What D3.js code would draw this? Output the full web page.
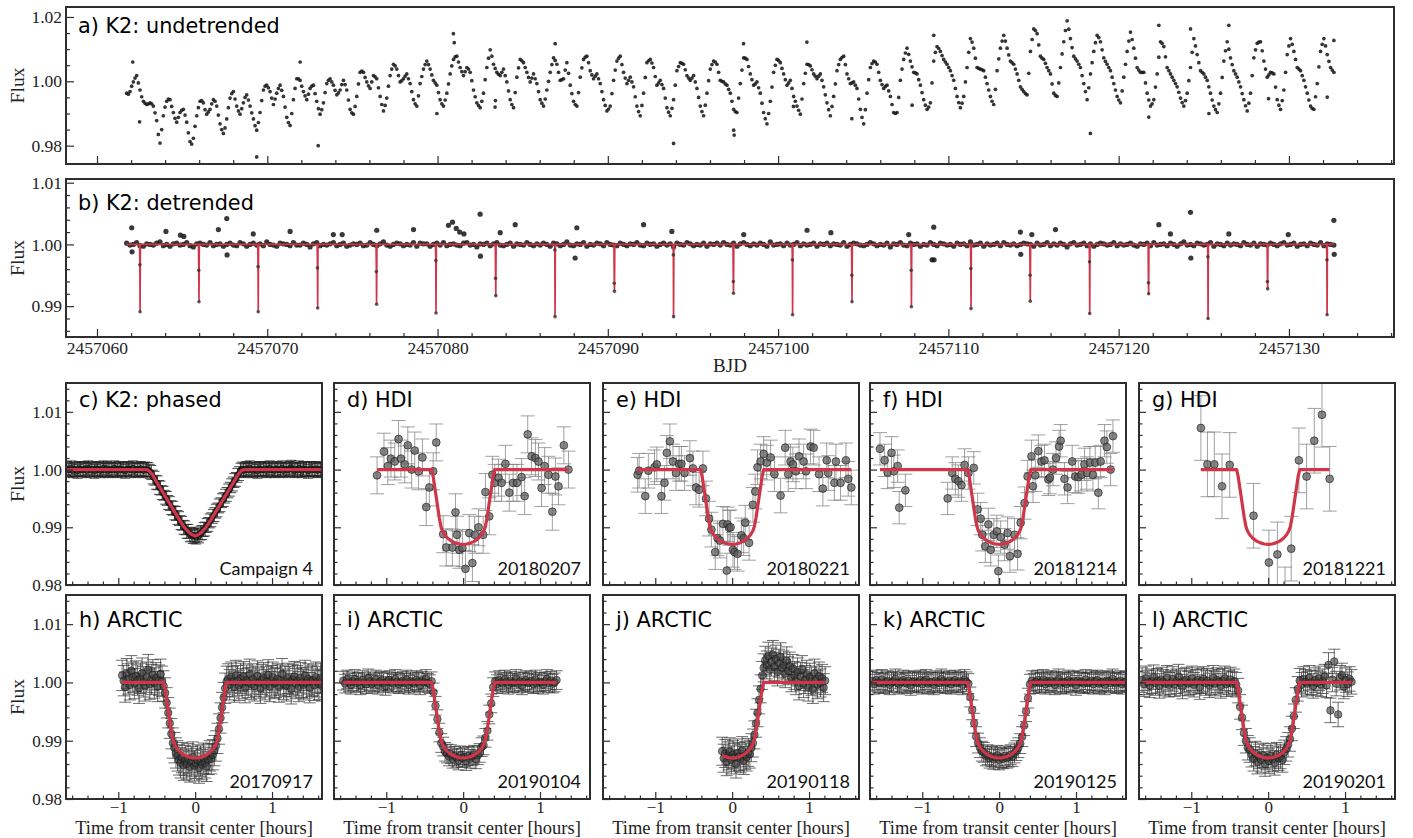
<!DOCTYPE html>
<html>
<head>
<meta charset="utf-8">
<script src="https://cdn.jsdelivr.net/npm/d3@7"></script>
<style>
  body { margin: 0; background: #fff; }
  svg { display: block; }
</style>
</head>
<body>
<svg id="fig" width="1413" height="838"></svg>
<script>
// ---------------------------------------------------------------
// K2 Campaign 4 light curve (flux deviation in units of 1e-4)
// ---------------------------------------------------------------
const K2_START = 2457061.743;  // BJD of first sample
const K2_STEP = 0.19585;       // days between samples in k2RawDev

const k2RawDev = [
  -37,-32,-2,18,-27,-62,-72,-67,-77,-122,
  -192,-107,-62,-57,-97,-127,-97,-87,-127,-187,
  -177,-107,-62,-67,-102,-87,-57,-77,-132,-162,
  -117,-52,-32,-77,-102,-67,-42,-77,-117,-152,
  -97,-27,-12,-32,-72,-37,-12,-47,-112,-137,
  -57,8,3,-32,-57,-22,-12,-62,-102,-67,
  -7,8,-12,-42,-27,3,-27,-87,-102,-47,
  28,28,-2,-22,18,8,-47,-92,-52,18,
  53,38,-2,8,23,-7,-57,-77,-7,38,
  63,38,3,-12,-57,-77,-37,23,68,78,
  43,18,43,28,-27,-67,-82,
  -37,43,98,53,28,18,38,-2,-57,-82,
  13,68,58,28,-2,23,-7,-57,-77,-27,
  28,73,53,3,8,58,-12,-62,-77,13,
  68,78,33,8,23,-7,-57,-92,-77,3,
  63,78,28,-7,13,-17,-77,-107,-37,58,
  68,43,-12,3,-22,-82,-107,-57,33,58,
  53,18,3,18,-22,-77,-107,-37,38,63,
  53,3,-2,-12,-37,-87,-97,-7,73,68,
  23,-12,-2,-37,-97,-132,-62,28,68,58,
  23,-12,3,-47,-77,-102,-7,53,48,23,
  8,23,-17,-67,-107,-47,33,68,78,23,
  -7,-2,-22,-87,-132,-37,43,63,53,3,
  -22,-12,-47,-97,-97,3,68,103,63,28,
  23,-12,-57,-87,-67,63,108,93,
  68,53,33,3,-47,-82,-47,43,133,103,
  43,38,33,-7,-47,-72,33,103,143,103,
  63,53,23,-17,-32,-42,93,163,148,78,
  68,43,23,-37,-47,43,123,188,133,78,
  63,43,-7,-57,23,93,143,123,73,53,
  33,-7,-47,-67,13,93,153,103,43,28,
  28,-37,-77,-57,23,123,108,43,23,3,
  -17,-52,-77,-37,43,133,83,33,23,3,
  -37,-77,-97,-37,63,123,73,33,13,-17,
  -57,-92,-37,73,118,123,63,13,28,23,
  -57,-87,-27,83,133,93,43,33,3,-37,
  -77,-87,-7,93,133,83,43,28
];

// samples taken half a step after each entry of k2RawDev
const k2RawDevMid = [
  -40,-15,10,-5,-48,-68,-70,-70,-98,-165,
  -150,-80,-55,-78,-115,-112,-90,-105,-160,-195,
  -140,-82,-60,-88,-95,-70,-62,-105,-150,-145,
  -82,-38,-55,-92,-85,-50,-58,-98,-138,-128,
  -60,-15,-20,-52,-55,-22,-28,-80,-128,-100,
  -22,8,-15,-45,-40,-15,-38,-85,-88,-35,
  3,-2,-28,-36,-10,-10,-58,-98,-78,-8,
  32,12,-14,-2,14,-20,-72,-75,-15,38,
  48,18,2,16,8,-32,-70,-45,15,52,
  52,20,-5,-35,-70,-58,-8,48,76,60,
  30,30,38,2,-48,-75,-62,
  5,72,78,40,22,28,18,-30,-72,-35,
  42,64,43,12,10,8,-32,-68,-55,0,
  52,65,28,5,35,25,-38,-72,-35,42,
  75,58,20,16,8,-32,-75,-86,-38,35,
  72,52,10,3,-2,-48,-94,-75,12,64,
  57,15,-5,-10,-52,-96,-84,-12,46,56,
  36,10,10,-2,-50,-94,-74,2,52,60,
  28,0,-8,-25,-62,-94,-52,35,72,46,
  5,-8,-20,-68,-116,-100,-18,50,65,40,
  5,-5,-22,-62,-90,-55,25,52,36,16,
  16,3,-42,-88,-78,-8,52,74,52,8,
  -5,-12,-55,-112,-88,5,55,60,28,-10,
  -16,-30,-72,-100,-50,38,88,84,45,26,
  5,-35,-74,-80,-5,90,102,80,
  60,43,18,-22,-66,-68,-2,90,122,72,
  40,36,13,-27,-62,-25,70,125,125,82,
  58,38,3,-25,-38,25,130,158,113,72,
  56,33,-8,-44,-5,85,158,162,105,70,
  53,18,-32,-20,58,120,136,98,62,43,
  13,-27,-58,-30,53,125,130,72,35,28,
  -5,-58,-70,-18,75,118,76,33,13,-7,
  -34,-66,-60,2,90,110,58,28,13,-17,
  -58,-88,-70,12,95,100,52,23,-2,-38,
  -76,-68,18,98,122,95,38,20,26,-18,
  -74,-60,28,110,115,68,38,18,-17,-58,
  -84,-48,45,115,110,62,35
];

// isolated samples off the main curve [BJD, flux]
const k2RawOutliers = [
  [2457062.10,1.0060],[2457062.50,0.9874],[2457069.38,0.9765],[2457071.93,1.0060],
  [2457072.99,0.9800],[2457079.96,0.9900],[2457080.93,1.0148],[2457080.98,1.0120],
  [2457083.38,0.9920],[2457083.40,0.9940],[2457086.91,1.0117],[2457093.86,0.9807],
  [2457097.39,0.9848],[2457097.42,0.9833],[2457097.97,1.0117],[2457100.90,0.9922],
  [2457101.69,1.0122],[2457104.33,0.9884],[2457107.87,0.9926],[2457109.14,1.0143],
  [2457118.34,0.9838],[2457121.77,0.9889],[2457122.36,1.0174],[2457124.22,1.0163],
  [2457125.30,0.9900],[2457126.47,1.0174],[2457128.80,0.9946],[2457132.25,0.9951],
  [2457132.64,1.0127]
];

// detrended residuals, same sampling as k2RawDev (units of 1e-4)
const k2DetrendedDev = [
  2,-1,0,3,-2,-3,1,0,-1,2,4,-2,0,-3,1,2,-1,0,3,-2,-4,1,2,0,-1,3,-2,0,1,-3,
  0,2,-1,-2,3,1,-3,0,2,-1,1,-2,4,0,-1,-3,2,1,0,-2,3,-1,-1,2,0,-4,1,3,-2,0,
  -1,1,3,-2,0,2,-3,-1,1,0,2,-2,-1,3,0,-2,1,4,-1,-3,0,2,1,-2,0,-1,3,-3,2,1,
  1,-3,0,2,-1,3,-2,0,1,-1,-2,2,3,-1,0,-4,1,0,2,-2,1,3,-1,-2,0,2,-3,1,0,-1,
  3,0,-2,1,-1,2,0,-3,2,1,-2,0,4,-1,-2,1,0,3,-3,0,-1,2,1,-2,3,0,-1,-2,2,0,
  -2,1,0,3,-1,-2,2,0,1,-3,0,2,-1,1,-4,2,0,-1,3,1,-2,0,-1,2,-3,1,0,2,-1,3,
  0,-1,2,-3,1,3,0,-2,1,-1,2,0,-3,4,-1,0,1,-2,2,-1,0,3,-2,1,-1,0,2,-3,1,0,
  2,-2,1,0,-1,3,-3,0,2,1,-1,-2,0,3,1,-2,0,-1,2,-4,1,0,3,-1,-2,2,0,1,-3,0,
  -1,3,0,-2,2,1,-1,0,-3,2,0,1,-2,4,-1,0,2,-3,1,-1,0,2,-2,3,0,-1,1,-2,0,2,
  1,0,-3,2,-1,0,3,-2,1,-1,2,0,-4,1,3,-1,0,2,-2,1,-3,0,2,1,-1,0,3,-2,1,-1,
  0,2,-1,-3,1,0,2,-2,3,-1,0,1,-2,2,0,-3,1,4,-1,0,-2,2,1,-1,0,3,-3,1,0,-2,
  2,-1,1,0,-2,3,0,-1,2,-3,1,0,
  -1,2,0,-2,1,3,-1,0,2,-3,0,1,-2,2,0,-1,3,-2,1,0,-1
];

const k2DetrendedOutliers = [
  [2457062.04,1.0027],[2457062.06,0.9988],[2457064.05,1.0021],[2457064.90,1.0015],
  [2457065.10,1.0013],[2457067.13,1.0024],[2457067.62,1.0042],[2457067.64,0.9983],
  [2457069.18,1.0017],[2457071.34,1.0021],[2457073.88,1.0016],[2457074.40,1.0016],
  [2457076.43,1.0023],[2457078.59,1.0024],[2457080.64,1.0031],[2457080.88,1.0036],
  [2457081.10,1.0026],[2457081.30,1.0020],[2457081.55,1.0017],[2457082.50,1.0049],
  [2457082.52,0.9981],[2457083.68,1.0019],[2457084.56,1.0032],[2457088.08,0.9978],
  [2457088.18,1.0027],[2457092.10,1.0032],[2457093.76,1.0021],[2457097.98,1.0016],
  [2457101.70,1.0023],[2457103.10,1.0019],[2457107.67,1.0016],[2457109.04,0.9975],
  [2457109.14,1.0028],[2457109.16,0.9975],[2457114.23,1.0020],[2457114.25,0.9984],
  [2457114.90,1.0016],[2457116.29,1.0024],[2457122.36,1.0032],[2457123.04,1.0017],
  [2457124.22,1.0052],[2457124.24,0.9978],[2457126.47,1.0017],[2457129.96,1.0016],
  [2457132.64,1.0039],[2457132.66,0.9984]
];

// individual K2 transits: mid-time, lowest sample, partial (ingress) sample
const transitMid = [
  2457062.53,2457065.99,2457069.47,2457072.96,2457076.42,2457079.91,2457083.42,
  2457086.90,2457090.39,2457093.86,2457097.38,2457100.85,2457104.34,2457107.83,
  2457111.33,2457114.81,2457118.30,2457121.76,2457125.25,2457128.75,2457132.24
];
const transitMin = [
  0.9891,0.9907,0.9891,0.9897,0.9903,0.9889,0.9917,0.9883,0.9924,0.9883,0.9921,
  0.9886,0.9907,0.9899,0.9896,0.9908,0.9888,0.9920,0.9880,0.9928,0.9886
];
const transitPartial = [
  0.9967,0.9958,0.9964,0.9962,0.9956,0.9974,0.9945,0.9991,0.9937,0.9983,0.9940,
  0.9975,0.9950,0.9958,0.9961,0.9950,0.9972,0.9938,0.9980,0.9940,0.9975
];

// ---------------------------------------------------------------
// Transit models: [hours from center, deviation in 1e-4]
// ---------------------------------------------------------------
const modelK2 = [
  [-1.70,0],[-0.63,0],[-0.60,-2],[-0.56,-8],[-0.50,-22],[-0.40,-44],[-0.30,-66],
  [-0.20,-88],[-0.14,-100],[-0.08,-109],[-0.04,-113],[0,-115],[0.04,-113],
  [0.08,-109],[0.14,-100],[0.20,-88],[0.30,-66],[0.40,-44],[0.50,-22],[0.56,-8],
  [0.60,-2],[0.63,0],[1.70,0]
];
const modelGround = [
  [-1.70,0],[-0.41,0],[-0.39,-12],[-0.37,-30],[-0.35,-48],[-0.33,-66],[-0.31,-84],
  [-0.29,-98],[-0.27,-106],[-0.24,-113],[-0.20,-119],[-0.15,-124],[-0.10,-127],
  [-0.05,-129],[0,-129.5],[0.05,-129],[0.10,-127],[0.15,-124],[0.20,-119],
  [0.24,-113],[0.27,-106],[0.29,-98],[0.31,-84],[0.33,-66],[0.35,-48],[0.37,-30],
  [0.39,-12],[0.41,0],[1.70,0]
];

// ---------------------------------------------------------------
// Phased K2 photometry (deviation in 1e-4)
// ---------------------------------------------------------------
const phasedStart = -1.67, phasedStep = 0.02, phasedErr = 0.0012;
const phasedDev = [
  2,-1,0,3,-2,1,0,-3,2,1,-1,0,2,-2,3,0,-1,1,-3,2,0,1,-2,0,3,-1,2,-2,0,1,
  -1,3,0,-2,1,2,-1,0,-3,1,2,0,-1,3,-2,0,1,-1,2,0,-2,1,0,
  0,-3,-5,-13,-15,-22,-23,-31,-32,-40,-41,-48,-50,-57,-59,-66,-67,-75,-76,-83,
  -85,-92,-93,-100,-101,-107,-107,-113,-112,-116,-114,
  -117,-113,-115,-110,-109,-104,-103,-97,-95,-89,-87,-81,-78,-72,-70,-63,-61,-54,
  -52,-46,-43,-37,-34,-28,-25,-19,-17,-10,-7,-1,
  1,-2,0,2,-1,3,0,-2,1,0,-3,2,1,-1,0,2,-2,1,3,-1,0,-2,2,1,-1,0,3,-2,1,0,
  -1,2,4,0,-2,1,-1,3,0,-2,2,1,0,-3,1,2,-1,0,2,-2,1,0,-1
];

// ---------------------------------------------------------------
// HDI nights: [hours from center, relative flux]
// ---------------------------------------------------------------
const hdi20180207 = [
  [-1.12,0.9990],[-1.03,1.0031],[-0.98,1.0006],[-0.94,1.0019],[-0.89,1.0014],[-0.84,1.0053],
  [-0.81,1.0019],[-0.76,1.0009],[-0.72,1.0042],[-0.67,1.0000],[-0.63,1.0033],[-0.58,0.9997],
  [-0.53,1.0021],[-0.48,0.9935],[-0.44,0.9969],[-0.39,0.9997],[-0.35,1.0047],[-0.26,0.9888],
  [-0.22,0.9865],[-0.14,0.9865],[-0.10,0.9926],[-0.08,0.9887],[-0.05,0.9861],[-0.01,0.9864],
  [0.03,0.9828],[0.08,0.9890],[0.12,0.9838],[0.15,0.9887],[0.20,0.9900],[0.26,0.9887],
  [0.29,0.9961],[0.34,0.9919],[0.38,0.9991],[0.41,0.9977],[0.46,0.9986],[0.50,0.9977],
  [0.55,1.0010],[0.60,0.9960],[0.65,0.9977],[0.70,0.9977],[0.76,0.9987],[0.80,0.9954],
  [0.84,1.0061],[0.89,1.0023],[0.94,1.0020],[0.98,1.0014],[1.02,0.9968],[1.06,1.0006],
  [1.11,0.9991],[1.16,0.9927],[1.20,0.9988],[1.24,0.9971],[1.31,1.0042],[1.37,1.0000]
];
const hdi20180221 = [
  [-1.23,0.9991],[-1.21,0.9998],[-1.13,0.9954],[-1.09,0.9998],[-1.01,1.0004],[-0.98,1.0009],
  [-0.92,0.9954],[-0.88,0.9977],[-0.85,1.0029],[-0.81,1.0049],[-0.77,1.0014],[-0.73,0.9994],
  [-0.69,1.0010],[-0.66,1.0010],[-0.62,0.9994],[-0.55,1.0020],[-0.51,1.0002],[-0.47,0.9969],
  [-0.43,0.9965],[-0.38,1.0002],[-0.34,0.9950],[-0.30,0.9915],[-0.27,0.9896],[-0.22,0.9857],
  [-0.19,0.9881],[-0.16,0.9877],[-0.12,0.9906],[-0.07,0.9825],[-0.06,0.9905],[-0.04,0.9899],
  [-0.02,0.9900],[0.01,0.9861],[0.03,0.9857],[0.07,0.9854],[0.12,0.9886],[0.15,0.9881],
  [0.17,0.9908],[0.22,0.9873],[0.27,0.9939],[0.30,0.9962],[0.33,1.0004],[0.37,1.0014],
  [0.41,1.0027],[0.45,1.0012],[0.50,1.0021],[0.55,0.9992],[0.63,0.9955],[0.69,1.0038],
  [0.73,0.9992],[0.76,1.0014],[0.79,1.0009],[0.83,0.9997],[0.87,1.0023],[0.93,1.0014],
  [0.96,0.9997],[1.02,1.0040],[1.06,1.0038],[1.13,0.9992],[1.18,0.9967],[1.23,1.0016],
  [1.25,0.9994],[1.33,0.9977],[1.35,1.0014],[1.41,0.9977],[1.48,1.0016],[1.51,0.9984],
  [1.55,0.9969]
];
const hdi20181214 = [
  [-1.55,1.0036],[-1.49,1.0016],[-1.45,0.9995],[-1.40,1.0029],[-1.37,0.9997],[-1.32,1.0006],
  [-1.30,0.9934],[-1.22,0.9964],[-0.67,0.9950],[-0.61,0.9994],[-0.57,0.9984],[-0.53,0.9980],
  [-0.49,0.9973],[-0.45,1.0008],[-0.40,0.9994],[-0.33,1.0003],[-0.28,0.9931],[-0.24,0.9915],
  [-0.22,0.9887],[-0.18,0.9867],[-0.14,0.9905],[-0.11,0.9861],[-0.07,0.9887],[-0.03,0.9893],
  [-0.01,0.9824],[0.02,0.9883],[0.07,0.9870],[0.11,0.9890],[0.14,0.9850],[0.20,0.9887],
  [0.24,0.9854],[0.28,0.9908],[0.33,0.9942],[0.37,0.9988],[0.42,1.0023],[0.44,0.9971],
  [0.47,0.9990],[0.51,1.0032],[0.55,1.0014],[0.59,1.0016],[0.64,0.9983],[0.66,0.9986],
  [0.70,1.0000],[0.74,1.0020],[0.78,1.0040],[0.80,1.0050],[0.85,0.9984],[0.89,0.9969],
  [0.95,1.0014],[0.99,0.9988],[1.03,0.9987],[1.07,0.9991],[1.11,1.0009],[1.14,0.9994],
  [1.18,1.0012],[1.22,0.9991],[1.25,1.0012],[1.29,0.9960],[1.32,1.0014],[1.37,1.0050],
  [1.40,1.0039],[1.45,1.0000],[1.48,1.0058]
];
const hdi20181221 = [
  [-0.875,1.0072],[-0.79,1.0009],[-0.70,1.0009],[-0.60,0.9971],[-0.50,1.0008],[-0.19,0.9920],
  [0.01,0.9839],[0.12,0.9853],[0.22,0.9775],[0.30,0.9863],[0.40,1.0016],[0.50,0.9988],
  [0.60,1.0050],[0.70,1.0095],[0.80,0.9984]
];

// ---------------------------------------------------------------
// ARCTIC nights: regular cadence, deviation in 1e-4
// ---------------------------------------------------------------
const arctic20170917Start = -0.95, arctic20170917Step = 0.02;
const arctic20170917Dev = [
  12,3,-8,15,6,-4,20,9,-2,11,4,-10,7,16,1,-6,9,22,-3,5,13,-1,8,-7,4,14,2,
  -6,-18,-35,-52,-70,-88,-104,-112,-121,-126,-133,
  -138,-129,-142,-134,-140,-131,-145,-136,-128,-143,-139,-133,-147,-135,-141,-130,-138,-144,-132,-126,
  -131,-124,-117,-109,-96,-80,-61,-43,-26,-10,2,
  6,-4,9,1,-8,12,3,-5,7,-2,10,-9,4,0,14,-3,6,-6,2,11,-1,-10,5,8,-4,1,13,-7,3,9,
  -2,0,6,-8,4,15,-3,2,-6,7,1,-11,5,10,-2,3,-7,8,0,-4,12,-1,6,-9,2,4,-5,9,1,-3,7,-6
];
const arctic20190104Start = -1.56, arctic20190104Step = 0.025;
const arctic20190104Dev = [
  3,-2,5,0,-4,2,6,-1,1,-5,4,0,-3,7,2,-2,0,5,-4,1,3,-1,-6,2,4,0,-2,6,1,-3,
  0,3,-1,5,-4,2,0,-2,4,1,-5,3,0,6,-1,-3,2,
  -17,-40,-63,-86,-104,-110,-119,-122,
  -127,-123,-131,-126,-129,-134,-125,-130,-128,-135,-126,-131,-127,-124,-132,-125,
  -121,-111,-108,-95,-83,-55,-36,-8,
  2,-3,4,0,-2,5,1,-4,3,-1,0,6,-2,2,-5,1,4,-1,0,3,-3,5,-2,1,0,-4,2,6,-1,3,-2,0,4
];
const arctic20190118Start = -0.13, arctic20190118Step = 0.02;
const arctic20190118Dev = [
  -118,-130,-122,-136,-126,-119,-133,-124,-129,-140,-121,-127,-131,-117,-134,-125,-128,-120,-123,
  -112,-104,-90,-70,-52,-30,-11,12,25,
  38,30,45,22,35,48,27,40,18,33,44,25,30,15,37,20,28,8,24,12,
  3,18,-6,10,22,-2,5,14,-8,9,2,-12,16,4,-4,11,-1,7,-9,3
];
const arctic20190125Start = -1.65, arctic20190125Step = 0.025;
const arctic20190125Dev = [
  2,-3,4,0,-1,5,-2,1,3,-4,0,2,6,-1,-3,1,4,0,-2,3,-5,1,2,-1,0,4,-3,2,5,-2,
  0,1,-4,3,0,-1,6,2,-2,0,3,-3,1,4,-1,0,2,-4,5,1,-2,
  -25,-47,-70,-93,-104,-112,-118,-120,
  -126,-124,-130,-127,-132,-128,-125,-133,-129,-131,-126,-130,-128,-124,-127,-121,
  -117,-112,-105,-93,-74,-50,-27,-3,
  3,-2,1,4,-1,0,5,-3,2,-1,3,0,-4,2,6,-2,1,0,-3,4,1,-1,2,-5,3,0,1,-2,5,-1,
  0,3,-3,2,4,-2,0,1,-4,3,2,-1,6,0,-2,1,3,-3,0,2
];
const arctic20190201Start = -1.64, arctic20190201Step = 0.025;
const arctic20190201Dev = [
  4,-3,7,0,-5,2,9,-1,3,-6,5,1,-2,8,-4,0,6,-3,2,10,-1,-7,3,5,-2,0,7,-4,1,4,
  -8,2,6,-1,3,-5,0,8,-2,4,1,-6,3,7,-3,0,5,-2,2,-4,
  -14,-42,-60,-87,-100,-112,-116,-124,
  -131,-122,-136,-127,-133,-125,-140,-129,-135,-126,-132,-138,-124,-130,-127,-133,
  -120,-114,-107,-97,-79,-58,-30,-11,
  3,-4,6,1,-2,8,0,-6,4,-1,7,-3,2,10,-5,30,-48,5,36,-2,-55,8,12,-7,4,-3,6,1
];

// ---------------------------------------------------------------
// Drawing
// ---------------------------------------------------------------
const RED = '#d03649';
const FRAME = '#2e2e2e';
const SERIF = '"Liberation Serif","Times New Roman",serif';
const SANS = '"DejaVu Sans",sans-serif';
const NOTE = 'Lato,"DejaVu Sans",sans-serif';

const svg = d3.select('#fig');
svg.append('rect').attr('width', 1413).attr('height', 838).attr('fill', '#fff');
const defs = svg.append('defs');
let clipCount = 0;
function clipRect(x, y, w, h) {
  const id = 'clip' + (clipCount++);
  defs.append('clipPath').attr('id', id)
    .append('rect').attr('x', x).attr('y', y).attr('width', w).attr('height', h);
  return `url(#${id})`;
}
const fromDev = d => 1 + d * 1e-4;
function rangeTicks(a, b, step, skip) {
  const out = [];
  for (let v = a; v <= b + step / 2; v += step) {
    const r = Math.round(v * 1e6) / 1e6;
    if (!skip.some(s => Math.abs(s - r) < step / 10)) out.push(r);
  }
  return out;
}

// inward ticks on the left and bottom edges
function drawAxes(g, xs, ys, o) {
  const yb = ys.range()[0];
  const x0 = xs.range()[0];
  const bottom = g.append('g').attr('transform', `translate(0,${yb})`)
    .call(d3.axisBottom(xs).tickValues(o.xMajor).tickSize(-o.majLen).tickPadding(o.xPad)
      .tickFormat(o.xFmt || (() => '')));
  const bottomMinor = g.append('g').attr('transform', `translate(0,${yb})`)
    .call(d3.axisBottom(xs).tickValues(o.xMinor).tickSize(-o.minLen).tickFormat(() => ''));
  const left = g.append('g').attr('transform', `translate(${x0},0)`)
    .call(d3.axisLeft(ys).tickValues(o.yMajor).tickSize(-o.majLen).tickPadding(o.yPad)
      .tickFormat(o.yFmt || (() => '')));
  const leftMinor = g.append('g').attr('transform', `translate(${x0},0)`)
    .call(d3.axisLeft(ys).tickValues(o.yMinor).tickSize(-o.minLen).tickFormat(() => ''));
  [bottom, bottomMinor, left, leftMinor].forEach(a => {
    a.select('.domain').remove();
    a.attr('font-family', SERIF).attr('font-size', o.fontSize || 17.5).attr('color', FRAME);
    a.selectAll('.tick line').attr('stroke-width', 1.2);
    a.selectAll('.tick text').attr('fill', '#222');
  });
}

function frame(x, y, w, h) {
  svg.append('rect').attr('x', x).attr('y', y).attr('width', w).attr('height', h)
    .attr('fill', 'none').attr('stroke', FRAME).attr('stroke-width', 2);
}

function title(x, y, text) {
  svg.append('text').attr('x', x).attr('y', y).text(text)
    .attr('font-family', SANS).attr('font-size', 20.8).attr('fill', '#000');
}

function yLabel(cy, text) {
  svg.append('text').attr('transform', `translate(23.5,${cy}) rotate(-90)`)
    .attr('text-anchor', 'middle').text(text)
    .attr('font-family', SERIF).attr('font-size', 19.5).attr('fill', '#222');
}

// ---------- shared time axis for the two long panels ----------
const PL = 66, PR = 1394;
const bjdX = d3.scaleLinear().domain([2457058.18, 2457136.17]).range([PL, PR]);
const bjdMajor = d3.range(2457060, 2457131, 10);
const bjdMinor = rangeTicks(2457060, 2457136, 2, bjdMajor);

// ---------- a) undetrended ----------
const yA = d3.scaleLinear().domain([0.9743, 1.0231]).range([164, 7]);
const rawPoints = k2RawDev.map((d, i) => [K2_START + i * K2_STEP, fromDev(d)])
  .concat(k2RawDevMid.map((d, i) => [K2_START + (i + 0.5) * K2_STEP, fromDev(d)]))
  .concat(k2RawOutliers);
const gA = svg.append('g').attr('clip-path', clipRect(PL, 7, PR - PL, 157));
gA.selectAll('circle').data(rawPoints).join('circle')
  .attr('cx', d => bjdX(d[0])).attr('cy', d => yA(d[1])).attr('r', 1.85)
  .attr('fill', '#1a1a1a').attr('fill-opacity', 0.88);
drawAxes(svg.append('g'), bjdX, yA, {
  xMajor: bjdMajor, xMinor: bjdMinor, majLen: 8, minLen: 4, xPad: 5,
  yMajor: [0.98, 1.00, 1.02], yMinor: [0.985, 0.99, 0.995, 1.005, 1.01, 1.015],
  yPad: 4, yFmt: d3.format('.2f')
});
frame(PL, 7, PR - PL, 157);
title(78, 33, 'a) K2: undetrended');
yLabel(85.5, 'Flux');

// ---------- b) detrended ----------
const yB = d3.scaleLinear().domain([0.985, 1.0106]).range([337, 179]);
const detPoints = k2DetrendedDev.map((d, i) => [K2_START + i * K2_STEP, fromDev(d)]);
const tEnd = K2_START + (k2DetrendedDev.length - 1) * K2_STEP;
const gB = svg.append('g').attr('clip-path', clipRect(PL, 179, PR - PL, 158));
gB.selectAll('circle.band').data(detPoints.concat(k2DetrendedOutliers)).join('circle')
  .attr('class', 'band')
  .attr('cx', d => bjdX(d[0])).attr('cy', d => yB(d[1])).attr('r', 2.6)
  .attr('fill', '#161616').attr('fill-opacity', 0.85);
const bModel = [[K2_START, 1]];
transitMid.forEach((tc, i) => {
  bModel.push([tc - 0.03, 1], [tc - 0.012, transitPartial[i]], [tc, transitMin[i]], [tc + 0.02, 1]);
});
bModel.push([tEnd, 1]);
gB.append('path').datum(bModel)
  .attr('d', d3.line().x(d => bjdX(d[0])).y(d => yB(d[1])))
  .attr('fill', 'none').attr('stroke', RED).attr('stroke-width', 1.7);
const inTransit = transitMid.flatMap((tc, i) => [[tc - 0.012, transitPartial[i]], [tc, transitMin[i]]]);
gB.selectAll('circle.tr').data(inTransit).join('circle').attr('class', 'tr')
  .attr('cx', d => bjdX(d[0])).attr('cy', d => yB(d[1])).attr('r', 1.8)
  .attr('fill', '#333').attr('fill-opacity', 0.8);
drawAxes(svg.append('g'), bjdX, yB, {
  xMajor: bjdMajor, xMinor: bjdMinor, majLen: 8, minLen: 4, xPad: 5, xFmt: d3.format('d'),
  yMajor: [0.99, 1.00, 1.01], yMinor: rangeTicks(0.986, 1.010, 0.002, [0.99, 1.00, 1.01]),
  yPad: 4, yFmt: d3.format('.2f')
});
frame(PL, 179, PR - PL, 158);
title(78, 210, 'b) K2: detrended');
yLabel(258, 'Flux');
svg.append('text').attr('x', (PL + PR) / 2).attr('y', 372).attr('text-anchor', 'middle')
  .text('BJD').attr('font-family', SERIF).attr('font-size', 19).attr('fill', '#222');

// ---------- small transit panels ----------
const COL_LEFT = [66, 334, 603, 870, 1139];
const PANEL_W = 256;
const ROW_Y = [[383, 585], [595, 799]];
const HOUR_DOMAIN = [-1.68, 1.65];
const FLUX_DOMAIN = [0.98, 1.015];

const cadenced = (start, step, dev) => dev.map((d, i) => [start + i * step, fromDev(d)]);

const panels = [
  { col: 0, row: 0, label: 'c) K2: phased', note: 'Campaign 4', model: modelK2,
    points: cadenced(phasedStart, phasedStep, phasedDev), err: phasedErr, style: 'k2' },
  { col: 1, row: 0, label: 'd) HDI', note: '20180207', model: modelGround,
    points: hdi20180207, err: 0.0032, style: 'hdi' },
  { col: 2, row: 0, label: 'e) HDI', note: '20180221', model: modelGround,
    points: hdi20180221, err: 0.0030, style: 'hdi' },
  { col: 3, row: 0, label: 'f) HDI', note: '20181214', model: modelGround,
    points: hdi20181214, err: 0.0028, style: 'hdi' },
  { col: 4, row: 0, label: 'g) HDI', note: '20181221', model: modelGround,
    points: hdi20181221, err: 0.0056, style: 'hdi' },
  { col: 0, row: 1, label: 'h) ARCTIC', note: '20170917', model: modelGround,
    points: cadenced(arctic20170917Start, arctic20170917Step, arctic20170917Dev), err: 0.0026, style: 'arctic' },
  { col: 1, row: 1, label: 'i) ARCTIC', note: '20190104', model: modelGround,
    points: cadenced(arctic20190104Start, arctic20190104Step, arctic20190104Dev), err: 0.0016, style: 'arctic' },
  { col: 2, row: 1, label: 'j) ARCTIC', note: '20190118', model: modelGround,
    points: cadenced(arctic20190118Start, arctic20190118Step, arctic20190118Dev), err: 0.0024, style: 'arctic' },
  { col: 3, row: 1, label: 'k) ARCTIC', note: '20190125', model: modelGround,
    points: cadenced(arctic20190125Start, arctic20190125Step, arctic20190125Dev), err: 0.0017, style: 'arctic' },
  { col: 4, row: 1, label: 'l) ARCTIC', note: '20190201', model: modelGround,
    points: cadenced(arctic20190201Start, arctic20190201Step, arctic20190201Dev), err: 0.0021, style: 'arctic' }
];

const STYLES = {
  k2:     { r: 2.8, fill: '#222', fillOp: 0.8, stroke: '#000', strokeOp: 0.6, bar: '#1e1e1e', barOp: 0.8, cap: 5 },
  hdi:    { r: 3.9, fill: '#5a5a5a', fillOp: 0.72, stroke: '#1a1a1a', strokeOp: 0.8, bar: '#808080', barOp: 0.75, cap: 7 },
  arctic: { r: 3.8, fill: '#3a3a3a', fillOp: 0.62, stroke: '#111', strokeOp: 0.65, bar: '#262626', barOp: 0.68, cap: 6 }
};

panels.forEach(p => {
  const x0 = COL_LEFT[p.col];
  const [yt, yb] = ROW_Y[p.row];
  const xs = d3.scaleLinear().domain(HOUR_DOMAIN).range([x0, x0 + PANEL_W]);
  const ys = d3.scaleLinear().domain(FLUX_DOMAIN).range([yb, yt]);
  const st = STYLES[p.style];
  const body = svg.append('g').attr('clip-path', clipRect(x0, yt, PANEL_W, yb - yt));

  // error bars with caps
  const bars = body.append('g').attr('stroke', st.bar).attr('stroke-opacity', st.barOp).attr('stroke-width', 1);
  bars.selectAll('line.v').data(p.points).join('line').attr('class', 'v')
    .attr('x1', d => xs(d[0])).attr('x2', d => xs(d[0]))
    .attr('y1', d => ys(d[1] - p.err)).attr('y2', d => ys(d[1] + p.err));
  [-1, 1].forEach(s => {
    const cls = s > 0 ? 'cp' : 'cm';
    bars.selectAll('line.' + cls).data(p.points).join('line').attr('class', cls)
      .attr('x1', d => xs(d[0]) - st.cap).attr('x2', d => xs(d[0]) + st.cap)
      .attr('y1', d => ys(d[1] + s * p.err)).attr('y2', d => ys(d[1] + s * p.err));
  });

  // measurements
  body.append('g').selectAll('circle').data(p.points).join('circle')
    .attr('cx', d => xs(d[0])).attr('cy', d => ys(d[1])).attr('r', st.r)
    .attr('fill', st.fill).attr('fill-opacity', st.fillOp)
    .attr('stroke', st.stroke).attr('stroke-opacity', st.strokeOp).attr('stroke-width', 0.8);

  // best-fit model over the span covered by the night's data
  const tExt = d3.extent(p.points, d => d[0]);
  const mx0 = Math.max(xs(tExt[0]), x0), mx1 = Math.min(xs(tExt[1]), x0 + PANEL_W);
  body.append('g').attr('clip-path', clipRect(mx0, yt, mx1 - mx0, yb - yt))
    .append('path').datum(p.model)
    .attr('d', d3.line().x(d => xs(d[0])).y(d => ys(fromDev(d[1]))))
    .attr('fill', 'none').attr('stroke', RED).attr('stroke-width', 3.2)
    .attr('stroke-linejoin', 'round');

  drawAxes(svg.append('g'), xs, ys, {
    xMajor: [-1, 0, 1], xMinor: rangeTicks(-1.6, 1.6, 0.2, [-1, 0, 1]),
    majLen: 7, minLen: 3.5, xPad: 2, xFmt: p.row === 1 ? d3.format('d') : null,
    yMajor: [0.98, 0.99, 1.00, 1.01], yMinor: rangeTicks(0.982, 1.014, 0.002, [0.99, 1.00, 1.01]),
    yPad: 4, yFmt: p.col === 0 ? d3.format('.2f') : null, fontSize: 17
  });
  frame(x0, yt, PANEL_W, yb - yt);
  title(x0 + 13, p.row === 0 ? 407 : 627, p.label);
  svg.append('text').attr('x', x0 + PANEL_W - 9).attr('y', p.row === 0 ? 575 : 788)
    .attr('text-anchor', 'end').text(p.note)
    .attr('font-family', NOTE).attr('font-size', 18).attr('fill', '#111');
  if (p.row === 1) {
    svg.append('text').attr('x', x0 + PANEL_W / 2).attr('y', 834).attr('text-anchor', 'middle')
      .text('Time from transit center [hours]')
      .attr('font-family', SERIF).attr('font-size', 18.5).attr('fill', '#222');
  }
});
yLabel(484, 'Flux');
yLabel(697, 'Flux');
</script>
</body>
</html>
